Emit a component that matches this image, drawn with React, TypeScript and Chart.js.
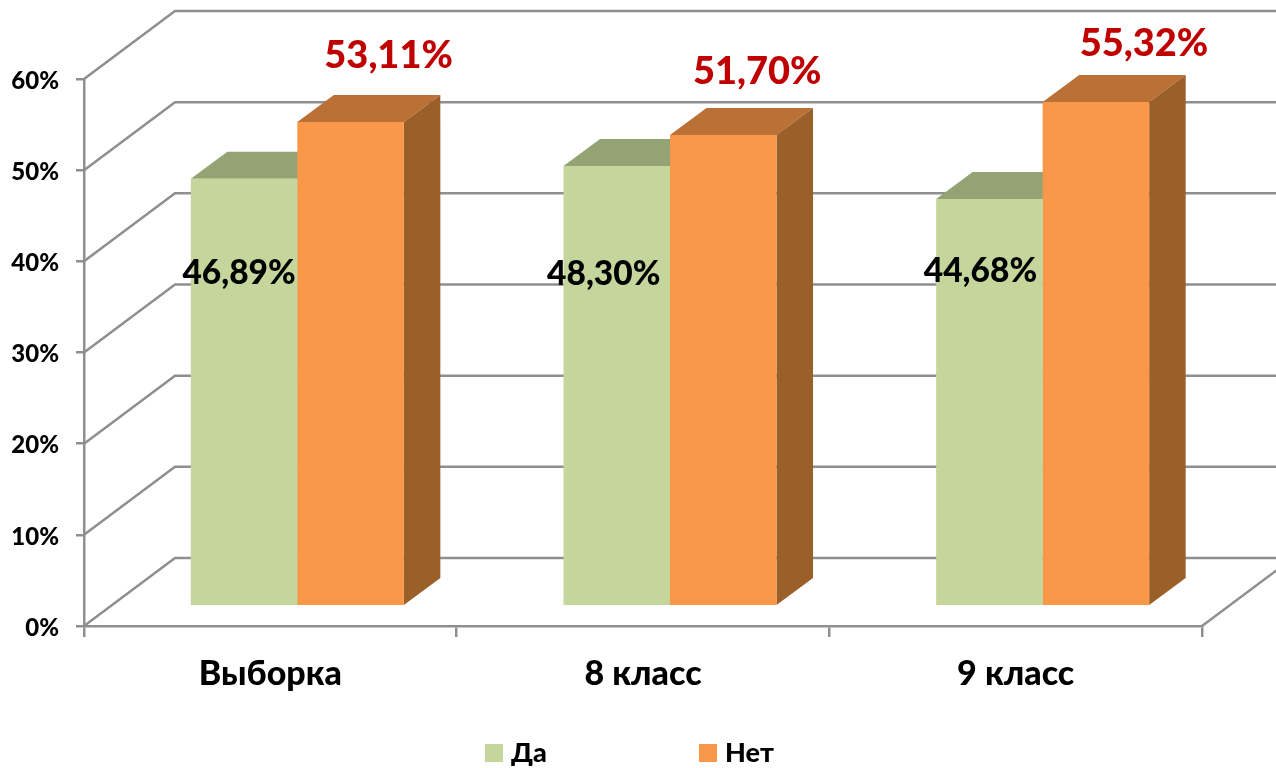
import React, { useEffect, useRef } from "react";
import { Chart, registerables } from "chart.js";

Chart.register(...registerables);

const categories = ["Выборка", "8 класс", "9 класс"];
const yesValues = [46.89, 48.3, 44.68];
const noValues = [53.11, 51.7, 55.32];
const seriesNames = ["Да", "Нет"];

const FONT = "Lato, 'Noto Sans', sans-serif";
const GRID = "#8f8f8f";
const WALL_DX = 91;
const WALL_DY = -68;
const BAR_DX = 27;
const BAR_DY = -19.7;
const DEPTH_DX = 36.5;
const DEPTH_DY = -27;
const FRONT = ["#c4d69b", "#fa9749"];
const TOP = ["#94a374", "#bb7035"];
const SIDE = ["#94a374", "#9b5f2a"];
const LABEL_COLORS = ["#000000", "#c00000"];
const LABEL_SIZES = [33.5, 38];
// hand-placed label offsets from each bar's drawn centre / top
const LABEL_DX = [[-5, -13, -9], [38, 34, 48]];
const LABEL_DY = [[94, 108, 72], [-66, -63, -58]];
const LEGEND_X = [485, 699];

function poly(ctx: CanvasRenderingContext2D, pts: number[][], fill: string) {
  ctx.fillStyle = fill;
  ctx.beginPath();
  pts.forEach((p, i) => (i ? ctx.lineTo(p[0], p[1]) : ctx.moveTo(p[0], p[1])));
  ctx.closePath();
  ctx.fill();
}

const depthPlugin = {
  id: "depth",
  beforeDatasetsDraw(chart: any) {
    const { ctx, chartArea, scales, width } = chart;
    const y = scales.y;
    ctx.save();
    ctx.strokeStyle = GRID;
    ctx.lineWidth = 2.5;
    y.ticks.forEach((t: any) => {
      const py = y.getPixelForValue(t.value);
      ctx.beginPath();
      ctx.moveTo(chartArea.left, py);
      ctx.lineTo(chartArea.left + WALL_DX, py + WALL_DY);
      ctx.lineTo(width, py + WALL_DY);
      ctx.stroke();
    });
    ctx.beginPath();
    ctx.moveTo(chartArea.right, chartArea.bottom);
    ctx.lineTo(chartArea.right + WALL_DX, chartArea.bottom + WALL_DY);
    ctx.stroke();
    ctx.restore();

    ctx.save();
    ctx.translate(BAR_DX, BAR_DY);
    chart.data.datasets.forEach((_: any, d: number) => {
      chart.getDatasetMeta(d).data.forEach((bar: any) => {
        const l = bar.x - bar.width / 2;
        const r = bar.x + bar.width / 2;
        poly(ctx, [[l, bar.y], [r, bar.y], [r + DEPTH_DX, bar.y + DEPTH_DY], [l + DEPTH_DX, bar.y + DEPTH_DY]], TOP[d]);
        poly(ctx, [[r, bar.y], [r + DEPTH_DX, bar.y + DEPTH_DY], [r + DEPTH_DX, bar.base + DEPTH_DY], [r, bar.base]], SIDE[d]);
      });
    });
    ctx.restore();

    ctx.save();
    ctx.translate(BAR_DX, BAR_DY);
  },
  afterDatasetsDraw(chart: any) {
    const { ctx } = chart;
    ctx.restore();

    ctx.save();
    ctx.textAlign = "center";
    ctx.textBaseline = "middle";
    chart.data.datasets.forEach((ds: any, d: number) => {
      ctx.font = `900 ${LABEL_SIZES[d]}px ${FONT}`;
      ctx.fillStyle = LABEL_COLORS[d];
      chart.getDatasetMeta(d).data.forEach((bar: any, i: number) => {
        const text = ds.data[i].toFixed(2).replace(".", ",") + "%";
        ctx.fillText(text, bar.x + BAR_DX + LABEL_DX[d][i], bar.y + BAR_DY + LABEL_DY[d][i]);
      });
    });
    ctx.restore();

    ctx.save();
    ctx.textBaseline = "middle";
    ctx.font = `900 27px ${FONT}`;
    chart.data.datasets.forEach((ds: any, d: number) => {
      ctx.fillStyle = FRONT[d];
      ctx.fillRect(LEGEND_X[d], 744, 18, 18);
      ctx.fillStyle = "#000000";
      ctx.fillText(ds.label, LEGEND_X[d] + 26, 753);
    });
    ctx.restore();
  },
};

export default function App() {
  const ref = useRef<HTMLCanvasElement>(null);
  useEffect(() => {
    document.body.style.margin = "0";
    const chart = new Chart(ref.current!, {
      type: "bar",
      data: {
        labels: categories,
        datasets: [
          { label: seriesNames[0], data: yesValues, backgroundColor: FRONT[0], clip: false as any },
          { label: seriesNames[1], data: noValues, backgroundColor: FRONT[1], clip: false as any },
        ],
      },
      options: {
        animation: false,
        responsive: false,
        layout: { padding: { left: 0, top: 79, right: 74, bottom: 72 } },
        datasets: { bar: { categoryPercentage: 0.5716, barPercentage: 1 } },
        plugins: { legend: { display: false }, tooltip: { enabled: false }, title: { display: false } },
        scales: {
          x: {
            afterFit: (s: any) => { s.height = 70; },
            border: { color: GRID, width: 2.5 },
            grid: { drawOnChartArea: false, drawTicks: true, tickLength: 11, color: GRID, lineWidth: 2.5 },
            ticks: { color: "#000000", font: { family: FONT, size: 34, weight: "900" }, padding: 17, maxRotation: 0 },
          },
          y: {
            min: 0,
            max: 60,
            afterFit: (s: any) => { s.width = 84; },
            border: { color: GRID, width: 2.5 },
            grid: { drawOnChartArea: false, drawTicks: true, tickLength: 8, color: GRID, lineWidth: 2.5 },
            ticks: { stepSize: 10, color: "#000000", font: { family: FONT, size: 24, weight: "900" }, padding: 17, labelOffset: 2, callback: (v: any) => v + "%" },
          },
        },
      },
      plugins: [depthPlugin],
    } as any);
    return () => chart.destroy();
  }, []);
  return <canvas ref={ref} width={1276} height={768} style={{ display: "block" }} />;
}
